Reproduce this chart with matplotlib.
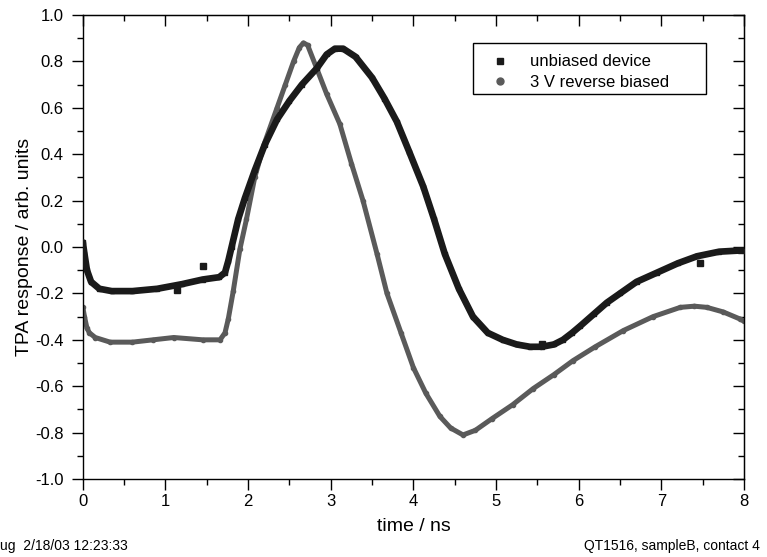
import matplotlib
matplotlib.use("Agg")
import matplotlib.pyplot as plt
from matplotlib.ticker import MultipleLocator, FormatStrFormatter
from matplotlib.lines import Line2D
from matplotlib.patches import Rectangle

plt.rcParams['font.family'] = ['Liberation Sans', 'DejaVu Sans']
plt.rcParams['axes.unicode_minus'] = False

# unbiased device (squares)
t_unb = [0.00, 0.02, 0.05, 0.10, 0.20, 0.35, 0.60, 0.90, 1.20, 1.45, 1.65, 1.72, 1.76, 1.80,
         1.88, 1.96, 2.08, 2.20, 2.35, 2.50, 2.65, 2.83, 2.95, 3.05, 3.15, 3.30, 3.50, 3.65,
         3.80, 3.95, 4.12, 4.25, 4.38, 4.55, 4.72, 4.90, 5.08, 5.25, 5.41, 5.55, 5.70, 5.81,
         5.92, 6.02, 6.18, 6.34, 6.50, 6.70, 6.95, 7.20, 7.43, 7.70, 7.95, 8.00]
y_unb = [0.02, -0.03, -0.10, -0.15, -0.18, -0.19, -0.19, -0.18, -0.16, -0.14, -0.13, -0.11, -0.06, 0.00,
         0.12, 0.21, 0.33, 0.44, 0.55, 0.63, 0.70, 0.77, 0.83, 0.855, 0.855, 0.82, 0.73, 0.64,
         0.54, 0.41, 0.26, 0.12, -0.03, -0.18, -0.30, -0.37, -0.40, -0.42, -0.43, -0.43, -0.42, -0.40,
         -0.37, -0.34, -0.29, -0.24, -0.20, -0.15, -0.11, -0.07, -0.04, -0.02, -0.015, -0.015]
# a few scattered outlier squares of the unbiased trace
t_unb_out = [1.14, 1.45, 5.55, 7.47]
y_unb_out = [-0.185, -0.08, -0.42, -0.07]

# 3 V reverse biased (circles)
t_rev = [0.00, 0.02, 0.05, 0.08, 0.15, 0.33, 0.60, 0.85, 1.10, 1.45, 1.66, 1.72, 1.76, 1.82,
         1.90, 1.98, 2.08, 2.20, 2.35, 2.45, 2.55, 2.62, 2.67, 2.72, 2.83, 2.95, 3.11, 3.25,
         3.39, 3.56, 3.68, 3.85, 4.00, 4.15, 4.32, 4.45, 4.60, 4.75, 4.95, 5.20, 5.45, 5.70,
         5.93, 6.20, 6.54, 6.90, 7.23, 7.40, 7.55, 7.75, 7.95, 8.00]
y_rev = [-0.26, -0.30, -0.35, -0.37, -0.39, -0.41, -0.41, -0.40, -0.39, -0.40, -0.40, -0.37, -0.31, -0.19,
         -0.01, 0.12, 0.30, 0.45, 0.60, 0.70, 0.80, 0.86, 0.88, 0.87, 0.77, 0.66, 0.53, 0.36,
         0.20, -0.03, -0.20, -0.37, -0.52, -0.63, -0.73, -0.78, -0.81, -0.79, -0.74, -0.68, -0.61, -0.55,
         -0.49, -0.43, -0.36, -0.30, -0.26, -0.255, -0.26, -0.28, -0.31, -0.32]

x_ticks = [0, 1, 2, 3, 4, 5, 6, 7, 8]
y_ticks = [-1.0, -0.8, -0.6, -0.4, -0.2, 0.0, 0.2, 0.4, 0.6, 0.8, 1.0]

c_unb = '#1a1a1a'
c_rev = '#5a5a5a'

fig = plt.figure(figsize=(7.67, 5.57), dpi=100)
ax = fig.add_axes([0.108, 0.140, 0.862, 0.833])

ax.plot(t_rev, y_rev, '-', color=c_rev, lw=3.6, solid_capstyle='round', zorder=2)
ax.plot(t_rev, y_rev, 'o', color=c_rev, ms=3, zorder=2)
ax.plot(t_unb, y_unb, '-', color=c_unb, lw=4.8, solid_capstyle='round', zorder=3)
ax.plot(t_unb, y_unb, 's', color=c_unb, ms=3.5, zorder=3)
ax.plot(t_unb_out, y_unb_out, 's', color=c_unb, ms=5, zorder=3)

ax.set_xlim(0, 8)
ax.set_ylim(-1.0, 1.0)
ax.set_xticks(x_ticks)
ax.set_yticks(y_ticks)
ax.yaxis.set_major_formatter(FormatStrFormatter('%.1f'))
ax.xaxis.set_minor_locator(MultipleLocator(0.5))
ax.yaxis.set_minor_locator(MultipleLocator(0.1))
ax.tick_params(which='major', direction='out', length=8, width=1, labelsize=12, pad=6)
ax.tick_params(axis='x', which='major', pad=3)
ax.tick_params(which='minor', direction='out', length=4, width=1)
for s in ax.spines.values():
    s.set_linewidth(1)

secx = ax.secondary_xaxis('top')
secx.set_xticks(x_ticks)
secx.xaxis.set_minor_locator(MultipleLocator(0.5))
secx.tick_params(which='major', direction='in', length=8, width=1, labeltop=False)
secx.tick_params(which='minor', direction='in', length=4, width=1)
secy = ax.secondary_yaxis('right')
secy.set_yticks(y_ticks)
secy.yaxis.set_minor_locator(MultipleLocator(0.1))
secy.tick_params(which='major', direction='in', length=8, width=1, labelright=False)
secy.tick_params(which='minor', direction='in', length=4, width=1)

ax.set_xlabel('time / ns', fontsize=14, labelpad=6)
ax.set_ylabel('TPA response / arb. units', fontsize=14, labelpad=1)

handles = [Line2D([], [], ls='none', marker='s', color=c_unb, ms=5),
           Line2D([], [], ls='none', marker='o', color=c_rev, ms=5)]
leg = ax.legend(handles, ['unbiased device', '3 V reverse biased'], loc='upper left',
                bbox_to_anchor=(0.618, 0.915), fontsize=12, frameon=False,
                handlelength=1.0, handletextpad=1.3, borderpad=0.0,
                labelspacing=0.35, borderaxespad=0)
ax.add_patch(Rectangle((0.590, 0.830), 0.352, 0.110, transform=ax.transAxes,
                       fill=False, edgecolor='black', lw=1, zorder=5))

fig.text(0.0, 1 - 546 / 557, 'ug  2/18/03 12:23:33', fontsize=10, va='center', ha='left')
fig.text(760 / 767, 1 - 546 / 557, 'QT1516, sampleB, contact 4', fontsize=10, va='center', ha='right')

fig.savefig('out.png', dpi=100)
